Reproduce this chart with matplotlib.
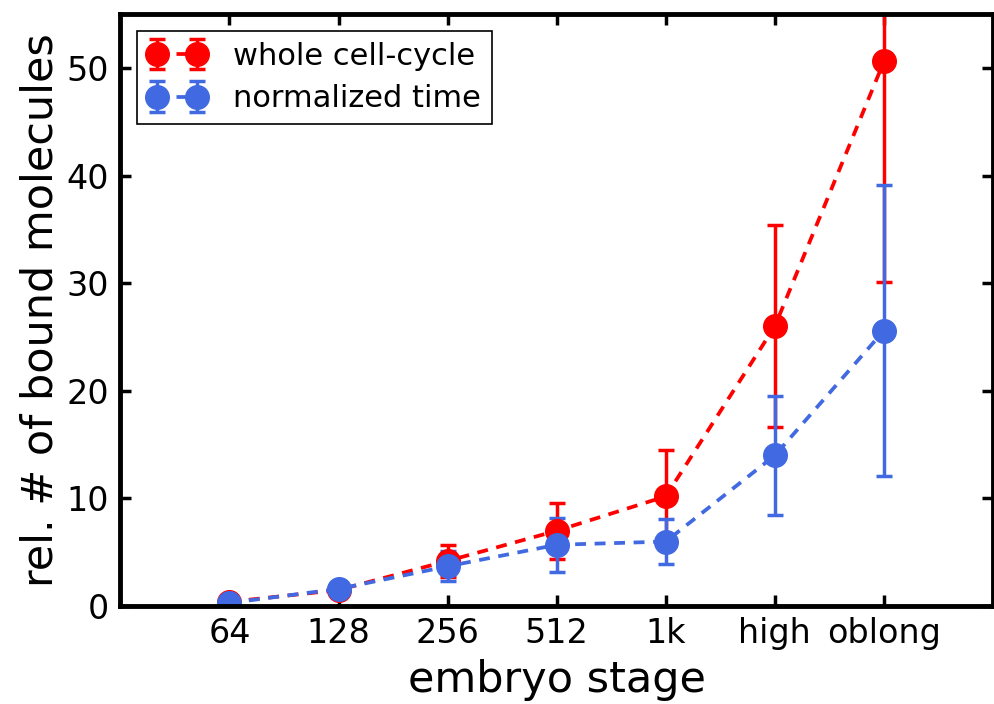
import numpy as np
import matplotlib
matplotlib.use("Agg")
import matplotlib.pyplot as plt

stages = ["64", "128", "256", "512", "1k", "high", "oblong"]

whole_mean = [0.4, 1.5, 4.2, 7.0, 10.2, 26.0, 50.6]
whole_err = [0.3, 0.5, 1.5, 2.6, 4.3, 9.4, 20.5]

norm_mean = [0.3, 1.6, 3.7, 5.7, 6.0, 14.0, 25.6]
norm_err = [0.2, 0.6, 1.4, 2.5, 2.1, 5.5, 13.5]

plt.rcParams["font.family"] = "DejaVu Sans"

fig = plt.figure(figsize=(9.95, 7.04), dpi=100)
ax = fig.add_axes([0.121, 0.139, 0.877, 0.841])

x = np.arange(1, len(stages) + 1)
style = dict(fmt="o", ls=(0, (2.9, 2.3)), markersize=17, lw=2.7, elinewidth=2.5,
             capsize=6, capthick=2.5)
ax.errorbar(x, whole_mean, yerr=whole_err, color="red", label="whole cell-cycle", **style)
ax.errorbar(x, norm_mean, yerr=norm_err, color="royalblue", label="normalized time", **style)

ax.set_xlim(0, 8)
ax.set_ylim(0, 55)
ax.set_xticks(x)
ax.set_xticklabels(stages)
ax.set_yticks([0, 10, 20, 30, 40, 50])
ax.tick_params(direction="in", length=8, width=2.5, labelsize=24, top=True, right=True, pad=8)
for sp in ax.spines.values():
    sp.set_linewidth(3.5)

ax.set_xlabel("embryo stage", fontsize=31, labelpad=6)
ax.set_ylabel("rel. # of bound molecules", fontsize=31)

leg = ax.legend(loc="upper left", numpoints=2, fontsize=22, fancybox=False, framealpha=1,
                edgecolor="black", handlelength=1.9, borderpad=0.35, handletextpad=0.9,
                borderaxespad=0.55, labelspacing=0.45)
leg.get_frame().set_linewidth(1.2)

fig.savefig("out.png", dpi=100)
